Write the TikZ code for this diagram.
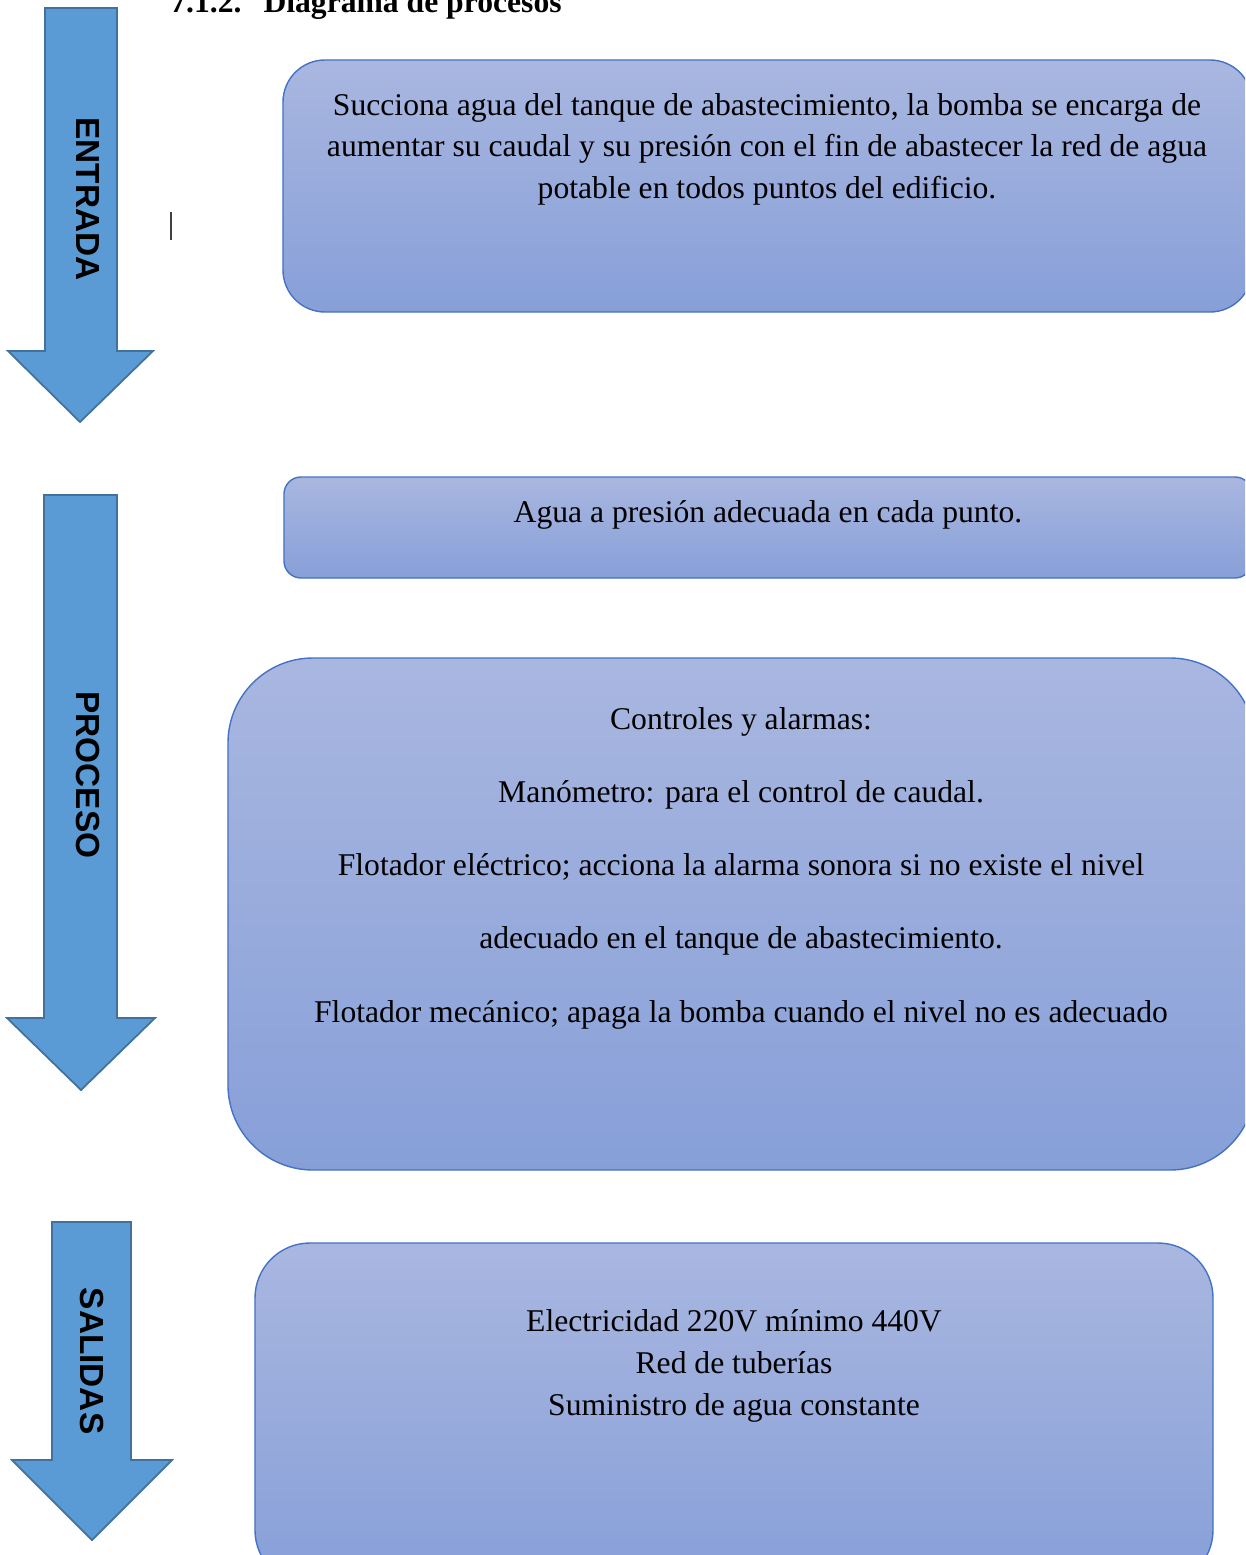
\documentclass[tikz,border=0pt]{standalone}
\usepackage{fontspec}
\setmainfont{Liberation Serif}
\newfontfamily\etiqueta{Liberation Sans}
\usetikzlibrary{positioning}
\definecolor{flechaazul}{HTML}{5B9BD5}
\definecolor{flechaborde}{HTML}{41719C}
\definecolor{cajaarriba}{HTML}{A9B7E0}
\definecolor{cajaabajo}{HTML}{879FD8}
\definecolor{cajaborde}{HTML}{4472C4}

\begin{document}
\begin{tikzpicture}[
  x=0.2mm, y=-0.2mm,
  flecha/.style={fill=flechaazul, draw=flechaborde, line width=1pt, line join=miter},
  rotulo/.style={rotate=-90, font=\etiqueta\bfseries\fontsize{19}{22}\selectfont, inner sep=0pt},
  caja/.style={draw=cajaborde, line width=0.8pt, top color=cajaarriba, bottom color=cajaabajo, inner sep=0pt},
  texto/.style={font=\fontsize{18}{23.6}\selectfont, align=center, inner sep=0pt, anchor=base}
]
\useasboundingbox (0,0) rectangle (1245,1555);
\clip (0,0) rectangle (1245,1555);

% titulo
\node[font=\bfseries\fontsize{18}{22}\selectfont, anchor=base west, inner sep=0pt] (titulo) at (170,13)
  {7.1.2.\hspace{0.44cm}Diagrama de procesos};

% cajas
\node[caja, minimum width=19.38cm, minimum height=5.04cm, rounded corners=0.84cm] (cajaentrada) at (767.5,186) {};
\node[caja, minimum width=19.36cm, minimum height=2.02cm, rounded corners=0.34cm] (cajaagua) at (768,527.5) {};
\node[caja, minimum width=20.54cm, minimum height=10.24cm, rounded corners=1.7cm] (cajacontrol) at (741.5,914) {};
\node[caja, minimum width=19.16cm, minimum height=6.84cm, rounded corners=1.1cm] (cajasalida) at (734,1414) {};

% flechas
\path[flecha] (45,8) -- (117,8) -- (117,351) -- (153,351) -- (80,422) -- (8,351) -- (45,351) -- cycle;
\path[flecha] (44,495) -- (117,495) -- (117,1018) -- (155,1018) -- (81,1090) -- (7,1018) -- (44,1018) -- cycle;
\path[flecha] (52,1222) -- (131,1222) -- (131,1460) -- (172,1460) -- (92,1540) -- (12,1460) -- (52,1460) -- cycle;

\node[rotulo] (entrada) at (87.5,199) {ENTRADA};
\node[rotulo] (proceso) at (88,775) {PROCESO};
\node[rotulo] (salidas) at (91.5,1361) {SALIDAS};

\draw[line width=0.8pt, black!75] (171,212) -- (171,240);

% textos (base = ultima linea)
\node[texto] (tsuccion) at (767,198) {Succiona agua del tanque de abastecimiento, la bomba se encarga de\\
  aumentar su caudal y su presión con el fin de abastecer la red de agua\\
  potable en todos puntos del edificio.};
\node[texto] (tagua) at (768,522) {Agua a presión adecuada en cada punto.};
\node[texto, font=\fontsize{18}{41.6}\selectfont] (tcontrol) at (741,1022) {Controles y alarmas:\\
  Manómetro: para el control de caudal.\\
  Flotador eléctrico; acciona la alarma sonora si no existe el nivel\\
  adecuado en el tanque de abastecimiento.\\
  Flotador mecánico; apaga la bomba cuando el nivel no es adecuado};
\node[texto, font=\fontsize{18}{23.8}\selectfont] (tsalida) at (734,1415) {Electricidad 220V mínimo 440V\\
  Red de tuberías\\
  Suministro de agua constante};
\end{tikzpicture}
\end{document}
